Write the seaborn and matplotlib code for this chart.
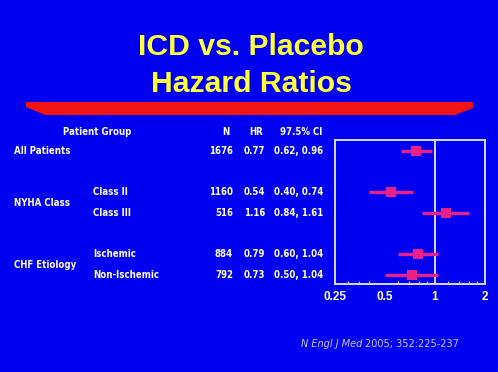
import numpy as np
import pandas as pd
import matplotlib
matplotlib.use("Agg")
import matplotlib.pyplot as plt
import matplotlib.transforms as mtransforms
from matplotlib import font_manager
from matplotlib.patches import Polygon
from matplotlib.ticker import FixedLocator, NullFormatter
import seaborn as sns

# Data
groups = ["All Patients", "NYHA Class", "NYHA Class", "CHF Etiology", "CHF Etiology"]
subgroups = ["", "Class II", "Class III", "Ischemic", "Non-Ischemic"]
n_pts = [1676, 1160, 516, 884, 792]
hr = [0.77, 0.54, 1.16, 0.79, 0.73]
ci_low = [0.62, 0.40, 0.84, 0.60, 0.50]
ci_high = [0.96, 0.74, 1.61, 1.04, 1.04]
ci_text = ["0.62, 0.96", "0.40, 0.74", "0.84, 1.61", "0.60, 1.04", "0.50, 1.04"]
x_ticks = [0.25, 0.5, 1, 2]
x_tick_labels = ["0.25", "0.5", "1", "2"]

BG = "#0000F0"
PINK = "#E8208A"
WHITE = "white"

sns.set_theme(style="white")
plt.rcParams['font.family'] = ["Liberation Sans", "DejaVu Sans"]

# The slide's table uses a condensed bold face; use a real condensed one if installed
stretch_map = {"ultra-condensed": 100, "extra-condensed": 200, "condensed": 300,
               "semi-condensed": 400, "normal": 500}
def stretch_val(s):
    if isinstance(s, str):
        return stretch_map.get(s, 500)
    return int(s)

cond = [f for f in font_manager.fontManager.ttflist
        if f.weight in ("bold", 700) and stretch_val(f.stretch) <= 400
        and "Mono" not in f.name and "Serif" not in f.name and "CJK" not in f.name]
if cond:
    tbl_font = dict(family=cond[0].name, fontstretch=cond[0].stretch)
else:
    tbl_font = dict(family="Liberation Sans")

# Row positions: one row per subgroup, a blank row between groups
rows = []
r = 0
for i, g in enumerate(groups):
    if i > 0:
        r += 2 if g != groups[i - 1] else 1
    rows.append(r)

df = pd.DataFrame({"group": groups, "sub": subgroups, "N": n_pts, "HR": hr,
                   "lo": ci_low, "hi": ci_high, "ci": ci_text, "row": rows})

W, H = 498, 372
fig = plt.figure(figsize=(W / 100, H / 100), dpi=100, facecolor=BG)

# size the table font so "Patient Group" is about as wide as on the slide (~68 px)
probe = fig.text(0, 0, "Patient Group", fontsize=10, fontweight="bold", **tbl_font)
rend = fig.canvas.get_renderer()
wpx = probe.get_window_extent(rend).width
probe.remove()
tbl_size = min(9.0, 10 * 68 / wpx)

# Title
fig.text(251 / W, 1 - 55 / H, "ICD vs. Placebo", ha="center", va="baseline",
         color="#FFFF3A", fontsize=21.7, fontweight="bold")
fig.text(251 / W, 1 - 92 / H, "Hazard Ratios", ha="center", va="baseline",
         color="#FFFF3A", fontsize=21.7, fontweight="bold")

# Red underline bar with tapered bottom corners
bar_pts = [(26, 102), (473, 102), (473, 108), (455, 115), (45, 115), (26, 107)]
fig.patches.append(Polygon([(x / W, 1 - y / H) for x, y in bar_pts], closed=True,
                           transform=fig.transFigure, facecolor="#F01414",
                           edgecolor="none"))

# Forest plot axes
ax = fig.add_axes([335 / W, 1 - 284 / H, 150 / W, 144 / H])
ax.set_facecolor(BG)
ax.set_xscale("log", base=2)
ax.set_xlim(0.25, 2)
ax.set_ylim(rows[-1] + 0.44, -0.53)

ax.axvline(1, color="#E8E8F4", lw=1.3, zorder=1)
ax.hlines(df["row"], df["lo"], df["hi"], color=PINK, lw=2.4, zorder=2)
sns.scatterplot(data=df, x="HR", y="row", marker="s", s=62, color=PINK,
                edgecolor=PINK, linewidth=0, ax=ax, zorder=3, legend=False)

for sp in ax.spines.values():
    sp.set_color("#D8D8E8")
    sp.set_linewidth(1.4)

ax.set_yticks([])
ax.xaxis.set_major_locator(FixedLocator(x_ticks))
ax.set_xticklabels(x_tick_labels)
ax.xaxis.set_minor_locator(FixedLocator([0.3, 0.35, 0.4, 0.6, 0.7, 0.8, 0.9, 1.2, 1.4, 1.6, 1.8]))
ax.xaxis.set_minor_formatter(NullFormatter())
ax.tick_params(axis="x", which="major", direction="in", length=0, pad=5,
               labelcolor=WHITE, labelsize=8.5)
ax.tick_params(axis="x", which="minor", direction="in", length=2, width=0.8,
               color="#D8D8E8", bottom=True)
for lab in ax.get_xticklabels():
    lab.set_fontweight("bold")
ax.set_xlabel("")
ax.set_ylabel("")

# Table to the left, rows tied to the axes' y data
tr = mtransforms.blended_transform_factory(fig.transFigure, ax.transData)
tkw = dict(transform=tr, color=WHITE, fontweight="bold", va="center",
           clip_on=False, fontsize=tbl_size, **tbl_font)

hdr_y = -0.92
fig.text(97 / W, hdr_y, "Patient Group", ha="center", **tkw)
fig.text(226 / W, hdr_y, "N", ha="center", **tkw)
fig.text(256 / W, hdr_y, "HR", ha="center", **tkw)
fig.text(301 / W, hdr_y, "97.5% CI", ha="center", **tkw)

for g, sub_df in df.groupby("group", sort=False):
    fig.text(14 / W, sub_df["row"].mean(), g, ha="left", **tkw)

for _, row in df.iterrows():
    if row["sub"]:
        fig.text(93 / W, row["row"], row["sub"], ha="left", **tkw)
    fig.text(233 / W, row["row"], str(row["N"]), ha="right", **tkw)
    fig.text(265 / W, row["row"], f"{row['HR']:.2f}", ha="right", **tkw)
    fig.text(323 / W, row["row"], row["ci"], ha="right", **tkw)

# Citation
fig.text(362 / W, 1 - 344 / H, "N Engl J Med", ha="right", va="center",
         color="#C8C8F4", fontsize=7, style="italic", family="DejaVu Sans")
fig.text(365 / W, 1 - 344 / H, "2005; 352:225-237", ha="left", va="center",
         color="#C8C8F4", fontsize=7, family="DejaVu Sans")

fig.savefig("out.png", dpi=100, facecolor=BG)
